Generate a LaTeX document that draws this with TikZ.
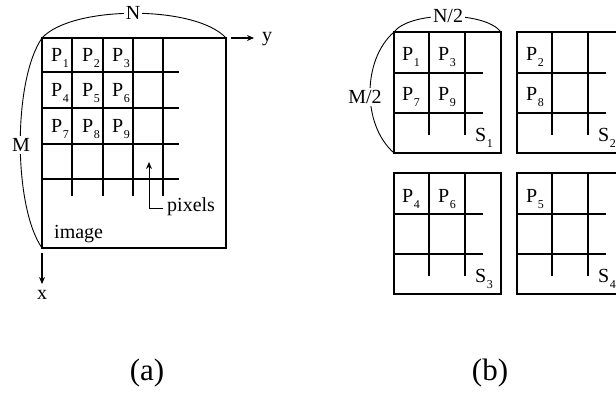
\documentclass[tikz,border=0pt]{standalone}
\usepackage{fontspec}
\setmainfont{Liberation Serif}
\usetikzlibrary{arrows.meta}
\newcommand\PL[2]{#1\kern0.6pt\raisebox{-5.5pt}{\fontsize{12}{13}\selectfont #2}}
\begin{document}
\begin{tikzpicture}[x=1pt,y=-1pt,
  gridln/.style={line width=1.2pt},
  frame/.style={line width=1.4pt},
  arcln/.style={line width=0.9pt},
  lbl/.style={font=\fontsize{20}{22}\selectfont, inner sep=1pt},
  arclbl/.style={lbl, fill=white, inner sep=2pt},
  captxt/.style={font=\fontsize{31}{34}\selectfont, inner sep=0pt},
  arr/.style={line width=1.1pt,-{Stealth[length=7pt,width=6pt]}}]
\useasboundingbox (0,0) rectangle (616,394);
\clip (0,0) rectangle (616,394);

% ---------- panel (a) ----------
\draw[arcln] (42,38) .. controls (72,5) and (196,5) .. (226,38);
\draw[arcln] (42,38) .. controls (13,80) and (13,206) .. (42,248);
\node[arclbl] (N) at (133,13) {N};
\node[arclbl] (M) at (21,145) {M};

\draw[frame] (42,38) rectangle (226,248);
\foreach \x in {72,103,133,163} \draw[gridln] (\x,38) -- (\x,196);
\foreach \y in {72,108,144,179} \draw[gridln] (42,\y) -- (179,\y);
\draw[line width=2.2pt] (133,38) -- (133,144);

\foreach \k/\x/\y in {1/60/58,2/91/58,3/121/58,4/60/93,5/91/93,6/121/93,7/60/129,8/91/129,9/121/129}
  \node[lbl] (a\k) at (\x,\y) {\PL{P}{\k}};

\coordinate (y0) at (231,38);
\coordinate (y1) at (254,38);
\draw[arr] (y0) -- (y1);
\node[lbl, anchor=base west] (ylab) at (261,41) {y};

\coordinate (x0) at (42,253);
\coordinate (x1) at (42,284);
\draw[arr] (x0) -- (x1);
\node[lbl] (xlab) at (42,295) {x};

\coordinate (pa) at (163,208);
\coordinate (pb) at (149,208);
\coordinate (pc) at (149,162);
\draw[arr, line width=1pt] (pa) -- (pb) -- (pc);
\node[lbl, anchor=base west] (pix) at (166,211) {pixels};
\node[lbl, anchor=base west] (img) at (53,238) {image};

\node[captxt] (capa) at (147,373) {(a)};

% ---------- panel (b) ----------
\draw[arcln] (394,32) .. controls (410,11) and (485,11) .. (501,32);
\draw[arcln] (394,32) .. controls (362,60) and (362,125) .. (394,153);
\node[arclbl] (N2) at (448,16) {N/2};
\node[arclbl] (M2) at (365,97) {M/2};

\foreach \ox/\oy/\s in {0/0/1,123/0/2,0/141/3,123/141/4}{
  \begin{scope}[shift={(\ox,\oy)}]
    \draw[frame] (394,32) rectangle (501,153);
    \foreach \x in {429,465} \draw[gridln] (\x,32) -- (\x,135);
    \foreach \y in {73,113} \draw[gridln] (394,\y) -- (483,\y);
    \node[lbl] (s\s) at (484,138) {\PL{S}{\s}};
  \end{scope}
}

\node[lbl] (b1) at (411,57) {\PL{P}{1}};
\node[lbl] (b3) at (447,57) {\PL{P}{3}};
\node[lbl] (b7) at (411,97) {\PL{P}{7}};
\node[lbl] (b9) at (447,97) {\PL{P}{9}};
\node[lbl] (b2) at (535,57) {\PL{P}{2}};
\node[lbl] (b8) at (535,97) {\PL{P}{8}};
\node[lbl] (b4) at (411,199) {\PL{P}{4}};
\node[lbl] (b6) at (447,199) {\PL{P}{6}};
\node[lbl] (b5) at (535,199) {\PL{P}{5}};

\node[captxt] (capb) at (490,373) {(b)};
\end{tikzpicture}
\end{document}
